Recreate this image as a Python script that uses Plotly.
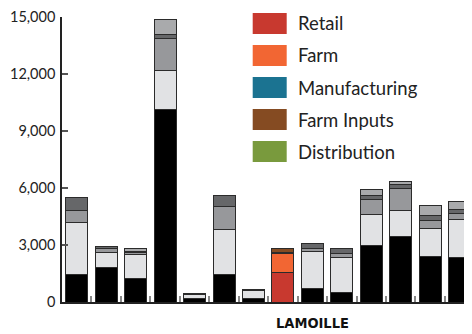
import plotly.graph_objects as go

counties = ["Addison", "Bennington", "Caledonia", "Chittenden", "Essex", "Franklin",
            "Grand Isle", "Lamoille", "Orange", "Orleans", "Rutland", "Washington",
            "Windham", "Windsor"]
retail = [1440, 1790, 1250, 10140, 160, 1470, 190, 1540, 720, 510, 3000, 3450, 2420, 2330]
farm = [2770, 840, 1240, 2020, 210, 2370, 420, 990, 1960, 1840, 1620, 1390, 1440, 1990]
manufacturing = [600, 170, 100, 1700, 30, 1180, 0, 80, 150, 210, 760, 1110, 420, 350]
farm_inputs = [700, 110, 85, 240, 30, 560, 60, 180, 260, 260, 200, 210, 260, 210]
distribution = [0, 0, 125, 780, 0, 0, 0, 0, 0, 0, 340, 170, 550, 400]

series_names = ["Retail", "Farm", "Manufacturing", "Farm Inputs", "Distribution"]
series_values = [retail, farm, manufacturing, farm_inputs, distribution]
series_colors = ["#c8392f", "#f26633", "#1b7391", "#854b22", "#799a3d"]
series_grays = ["#000000", "#e1e2e4", "#97989b", "#666769", "#a9aaac"]
highlight = "Lamoille"
y_ticks = [0, 3000, 6000, 9000, 12000, 15000]

# page body has an 8px margin; size the figure so it fills the window exactly
OFF = 8
W, H = 472 - OFF, 334 - OFF
L, R, T, B = 62 - OFF, 0, 17 - OFF, 334 - 302
PW, PH = W - L - R, H - T - B


def px_x(px):
    return (px - OFF - L) / PW


def px_y(py):
    return (H - B - (py - OFF)) / PH


fig = go.Figure()
for name, vals, col, gray in zip(series_names, series_values, series_colors, series_grays):
    colors = [col if c == highlight else gray for c in counties]
    fig.add_bar(x=counties, y=vals, name=name, showlegend=False,
                marker=dict(color=colors, line=dict(color="#2b2b2b", width=1)))

shapes = []
annotations = []
for i, (name, col) in enumerate(zip(series_names, series_colors)):
    yc = 23.5 + 32 * i
    shapes.append(dict(type="rect", xref="paper", yref="paper",
                       x0=px_x(252.7), x1=px_x(286.7),
                       y0=px_y(yc + 10.5), y1=px_y(yc - 10.5),
                       fillcolor=col, line=dict(width=0)))
    annotations.append(dict(text=name, xref="paper", yref="paper",
                            x=px_x(296), y=px_y(yc), xanchor="left", yanchor="middle",
                            showarrow=False,
                            font=dict(family="Lato", size=18.5, color="#222222")))

annotations.append(dict(text="<b>LAMOILLE</b>", x=highlight, xref="x", yref="paper",
                        y=0, yanchor="middle", yshift=-21, xanchor="left", xshift=-9,
                        showarrow=False,
                        font=dict(family="DejaVu Sans Condensed, Roboto, sans-serif",
                                  size=14.5, color="#111111")))

fig.update_layout(
    width=W, height=H, barmode="stack", bargap=0.253,
    margin=dict(l=L, r=R, t=T, b=B, autoexpand=False),
    plot_bgcolor="white", paper_bgcolor="white",
    shapes=shapes, annotations=annotations,
    xaxis=dict(type="category", range=[-0.5, 13.42], showline=True, linecolor="#222222",
               linewidth=1.5, ticks="inside", tickson="boundaries", ticklen=6,
               tickcolor="#888888", tickwidth=1.5, showticklabels=False, showgrid=False,
               automargin=False),
    yaxis=dict(range=[0, 15000], tickvals=y_ticks, tickformat=",", ticks="inside",
               ticklen=6, tickcolor="#555555", tickwidth=1.5, showline=True,
               linecolor="#222222", linewidth=1.5, showgrid=False, zeroline=False,
               automargin=False, ticklabelstandoff=2,
               tickfont=dict(family="Lato", size=14.5, color="#222222")),
)

fig.write_html("out.html")
